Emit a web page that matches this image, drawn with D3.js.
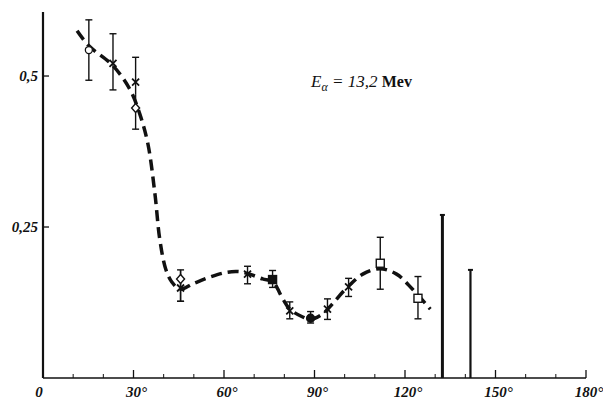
<!DOCTYPE html>
<html>
<head>
<meta charset="utf-8">
<script src="https://cdn.jsdelivr.net/npm/d3@7"></script>
<style>
body{margin:0;background:#fff;}
svg{display:block;}
.lbl{font-family:"Liberation Serif",serif;font-style:italic;font-weight:bold;font-size:15px;fill:#111;}
</style>
</head>
<body>
<svg id="chart" width="603" height="400"></svg>
<script>
// angle in degrees, value, error low, error high, marker type
var angles  = [15.2, 23.2, 30.7, 30.7, 45.6, 45.6, 67.8, 76.1, 81.8, 88.7, 94.3, 101.3, 111.8, 124.3];
var values  = [0.543, 0.521, 0.490, 0.447, 0.164, 0.149, 0.172, 0.163, 0.111, 0.099, 0.114, 0.151, 0.190, 0.132];
var errLo   = [0.493, 0.477, 0.470, 0.412, 0.127, 0.127, 0.156, 0.150, 0.098, 0.091, 0.097, 0.135, 0.147, 0.098];
var errHi   = [0.593, 0.570, 0.531, 0.470, 0.179, 0.179, 0.185, 0.178, 0.126, 0.110, 0.131, 0.165, 0.233, 0.168];
var markers = ["circle","cross","cross","diamond","diamond","cross","cross","fsquare","cross","fcircle","cross","cross","square","square"];

// dashed fitted curve
var curveDeg = [11.3, 15.2, 23.2, 28.8, 32.1, 34.8, 37.1, 38.7, 40.7, 42.7, 45.4, 49.7, 55.3, 60.9, 65.2, 68.5, 72.8, 76.2, 79.5, 81.8, 86.1, 88.7, 92.7, 96.0, 99.3, 101.3, 106.0, 111.6, 117.2, 122.5, 128.4];
var curveVal = [0.575, 0.550, 0.517, 0.478, 0.437, 0.387, 0.305, 0.230, 0.180, 0.159, 0.147, 0.156, 0.167, 0.175, 0.176, 0.172, 0.164, 0.159, 0.131, 0.114, 0.101, 0.097, 0.106, 0.123, 0.142, 0.152, 0.172, 0.181, 0.172, 0.147, 0.114];

// tall vertical lines on the right
var spikeDeg = [132.4, 141.7];
var spikeVal = [0.270, 0.179];

var xTicks = [0, 30, 60, 90, 120, 150, 180];
var xTickLabels = ["0", "30°", "60°", "90°", "120°", "150°", "180°"];
var xMinor = [10, 20, 40, 50, 70, 80, 100, 110, 130, 140, 160, 170];
var yTicks = [0.25, 0.5];
var yTickLabels = ["0,25", "0,5"];

var svg = d3.select("#chart");
var x = d3.scaleLinear().domain([0, 180]).range([43, 586]);
var y = d3.scaleLinear().domain([0, 0.606]).range([378, 12]);

// axes
svg.append("line").attr("x1", x(0)).attr("x2", x(0)).attr("y1", y(0.606)).attr("y2", y(0))
  .attr("stroke", "#111").attr("stroke-width", 2.2);
svg.append("line").attr("x1", x(0)).attr("x2", x(180)).attr("y1", y(0)).attr("y2", y(0))
  .attr("stroke", "#111").attr("stroke-width", 1.4);

svg.selectAll("line.xmaj").data(xTicks.slice(1)).enter().append("line")
  .attr("x1", function(d){return x(d);}).attr("x2", function(d){return x(d);})
  .attr("y1", y(0)).attr("y2", y(0) - 8)
  .attr("stroke", "#111").attr("stroke-width", 1.3);
svg.selectAll("line.xmin").data(xMinor).enter().append("line")
  .attr("x1", function(d){return x(d);}).attr("x2", function(d){return x(d);})
  .attr("y1", y(0)).attr("y2", y(0) - 4)
  .attr("stroke", "#111").attr("stroke-width", 1);
svg.selectAll("text.xl").data(xTicks).enter().append("text")
  .attr("class", "lbl")
  .attr("x", function(d){return x(d) + (d == 0 ? -4 : 3);})
  .attr("y", 397)
  .attr("text-anchor", "middle")
  .text(function(d, i){return xTickLabels[i];});

svg.selectAll("line.yt").data(yTicks).enter().append("line")
  .attr("x1", x(0)).attr("x2", x(0) + 6)
  .attr("y1", function(d){return y(d);}).attr("y2", function(d){return y(d);})
  .attr("stroke", "#111").attr("stroke-width", 1.3);
svg.selectAll("text.yl").data(yTicks).enter().append("text")
  .attr("class", "lbl")
  .attr("x", 38).attr("y", function(d){return y(d) + 5;})
  .attr("text-anchor", "end")
  .text(function(d, i){return yTickLabels[i];});

// dashed curve
var line = d3.line()
  .x(function(d){return x(d[0]);})
  .y(function(d){return y(d[1]);})
  .curve(d3.curveCatmullRom.alpha(0.5));
svg.append("path")
  .attr("d", line(d3.zip(curveDeg, curveVal)))
  .attr("fill", "none").attr("stroke", "#111")
  .attr("stroke-width", 3.5).attr("stroke-dasharray", "11,6");

// spikes
svg.selectAll("line.spike").data(spikeDeg).enter().append("line")
  .attr("x1", function(d){return x(d);}).attr("x2", function(d){return x(d);})
  .attr("y1", function(d, i){return y(spikeVal[i]);}).attr("y2", y(0))
  .attr("stroke", "#111").attr("stroke-width", function(d, i){return i == 0 ? 3 : 2.2;});
svg.selectAll("line.spcap").data(spikeDeg).enter().append("line")
  .attr("x1", function(d){return x(d) - 2.5;}).attr("x2", function(d){return x(d) + 2.5;})
  .attr("y1", function(d, i){return y(spikeVal[i]);}).attr("y2", function(d, i){return y(spikeVal[i]);})
  .attr("stroke", "#111").attr("stroke-width", 2);

// error bars
var eb = svg.append("g").attr("stroke", "#111");
angles.forEach(function(a, i){
  var cx = x(a);
  eb.append("line").attr("x1", cx).attr("x2", cx).attr("y1", y(errLo[i])).attr("y2", y(errHi[i])).attr("stroke-width", 1.4);
  if (!(i == 2)) eb.append("line").attr("x1", cx - 3.5).attr("x2", cx + 3.5).attr("y1", y(errLo[i])).attr("y2", y(errLo[i])).attr("stroke-width", 1.4);
  if (!(i == 3 || i == 4)) eb.append("line").attr("x1", cx - 3.5).attr("x2", cx + 3.5).attr("y1", y(errHi[i])).attr("y2", y(errHi[i])).attr("stroke-width", 1.4);
});

// markers
var mk = svg.append("g");
angles.forEach(function(a, i){
  var cx = x(a), cy = y(values[i]), t = markers[i];
  if (t == "circle" || t == "fcircle") {
    mk.append("circle").attr("cx", cx).attr("cy", cy).attr("r", t == "fcircle" ? 4 : 3.5)
      .attr("fill", t == "fcircle" ? "#111" : "#fff").attr("stroke", "#111").attr("stroke-width", 1.3);
  } else if (t == "square" || t == "fsquare") {
    mk.append("rect").attr("x", cx - 4).attr("y", cy - 4).attr("width", 8).attr("height", 8)
      .attr("fill", t == "fsquare" ? "#111" : "#fff").attr("stroke", "#111").attr("stroke-width", 1.4);
  } else if (t == "diamond") {
    mk.append("path").attr("d", "M" + cx + "," + (cy - 4.5) + "L" + (cx + 4) + "," + cy + "L" + cx + "," + (cy + 4.5) + "L" + (cx - 4) + "," + cy + "Z")
      .attr("fill", "#fff").attr("stroke", "#111").attr("stroke-width", 1.4);
  } else {
    mk.append("path").attr("d", "M" + (cx - 3.5) + "," + (cy - 3.5) + "L" + (cx + 3.5) + "," + (cy + 3.5) + "M" + (cx + 3.5) + "," + (cy - 3.5) + "L" + (cx - 3.5) + "," + (cy + 3.5))
      .attr("stroke", "#111").attr("stroke-width", 1.8);
  }
});

// annotation
var ann = svg.append("text").attr("x", 311).attr("y", 87).attr("fill", "#111")
  .attr("font-family", "Liberation Serif, serif").attr("font-size", 17);
ann.append("tspan").attr("font-style", "italic").text("E");
ann.append("tspan").attr("font-style", "italic").attr("font-size", 12).attr("dy", 4).text("α");
ann.append("tspan").attr("font-style", "italic").attr("dy", -4).text(" = 13,2 ");
ann.append("tspan").attr("font-weight", "bold").attr("font-size", 16).text("Mev");
</script>
</body>
</html>
